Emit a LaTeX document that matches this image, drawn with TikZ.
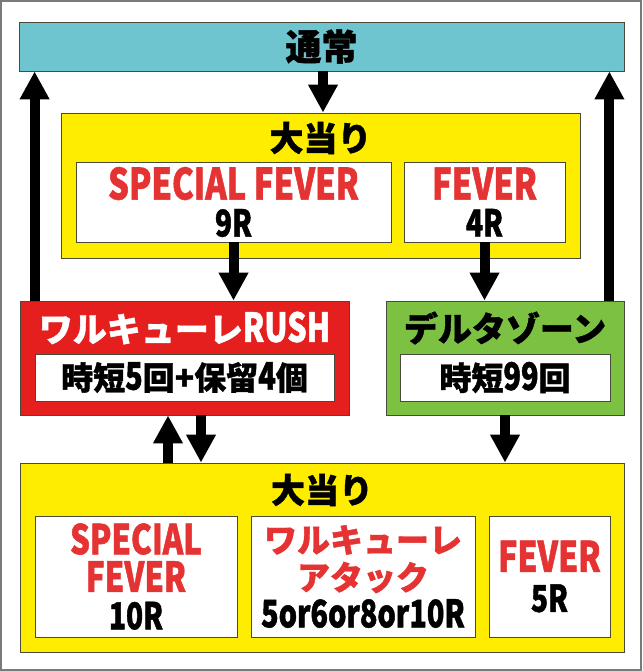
\documentclass[tikz,border=0pt]{standalone}
\usepackage{fontspec}
\setmainfont{Noto Sans CJK JP}[BoldFeatures={FakeBold=1.2}]
\newfontfamily\latin{Noto Sans CJK JP}[FakeStretch=0.76,BoldFeatures={FakeBold=1.2}]
\usetikzlibrary{arrows.meta}
\definecolor{cyanbar}{HTML}{6EC4CF}
\definecolor{hityellow}{HTML}{FFED00}
\definecolor{rushred}{HTML}{E41F1E}
\definecolor{deltagreen}{HTML}{7CC142}
\definecolor{textred}{HTML}{E53232}
\definecolor{edgegray}{HTML}{4A4A3A}
\definecolor{framegray}{HTML}{7A7A7A}

\begin{document}
\begin{tikzpicture}[x=1pt,y=-1pt]
        \tikzset{panel/.style={draw=edgegray,line width=0.8pt,inner sep=0pt},
            whitebox/.style={panel,fill=white,align=center},
            big/.style={font=\bfseries\fontsize{34}{37}\selectfont},
            arr/.style={line width=10pt,-{Triangle[length=28pt,width=28pt]}}}
        \useasboundingbox (0,0) rectangle (642,671);
        \draw[framegray,line width=2pt] (1,1) rectangle (641,670);
        \node[panel,fill=cyanbar,minimum width=605pt,minimum height=49pt,font=\bfseries\fontsize{36}{37}\selectfont] (tsujo) at (321.5,46.5) {通常};
        \node[panel,fill=hityellow,minimum width=519pt,minimum height=145pt] (hit1) at (320.5,185.5) {};
        \node[big] (hit1title) at (320.5,138) {大当り};
        \node[whitebox,minimum width=315pt,minimum height=80pt,big] (sf1) at (233.5,202)
            {\latin\color{textred}\fontsize{43}{37}\selectfont SPECIAL FEVER\\\latin\fontsize{37}{37}\selectfont 9R};
        \node[whitebox,minimum width=161pt,minimum height=80pt,big] (fv1) at (484.5,202)
            {\latin\color{textred}\fontsize{43}{37}\selectfont FEVER\\\latin\fontsize{37}{37}\selectfont 4R};
        \node[panel,fill=rushred,minimum width=329pt,minimum height=114pt] (rush) at (184.5,358) {};
        \node[big,white] (rushtitle) at (184.5,328) {ワルキューレ{\latin\fontsize{40}{37}\selectfont RUSH}};
        \node[whitebox,minimum width=299pt,minimum height=47pt,font=\bfseries\fontsize{32}{37}\selectfont] (rushin) at (184.5,377.5) {時短{\latin\fontsize{38}{37}\selectfont 5}回+保留{\latin\fontsize{38}{37}\selectfont 4}個};
        \node[panel,fill=deltagreen,minimum width=238pt,minimum height=114pt] (delta) at (505,358) {};
        \node[big] (deltatitle) at (505,328) {デルタゾーン};
        \node[whitebox,minimum width=210pt,minimum height=47pt,font=\bfseries\fontsize{32}{37}\selectfont] (deltain) at (505,377.5) {時短{\latin\fontsize{38}{37}\selectfont 99}回};
        \node[panel,fill=hityellow,minimum width=604pt,minimum height=189pt] (hit2) at (322,557.5) {};
        \node[big] (hit2title) at (322,490) {大当り};
        \node[whitebox,minimum width=202pt,minimum height=121pt,font=\bfseries\latin\fontsize{41}{37.5}\selectfont] (sf2) at (136,576.5)
            {\color{textred}SPECIAL\\\color{textred}FEVER\\\fontsize{37}{37.5}\selectfont 10R};
        \node[whitebox,minimum width=224pt,minimum height=121pt,font=\bfseries\fontsize{33}{37.5}\selectfont] (wa) at (363,576.5)
            {\color{textred}ワルキューレ\\\color{textred}アタック\\\latin\fontsize{38}{37.5}\selectfont 5or6or8or10R};
        \node[whitebox,minimum width=121pt,minimum height=121pt,font=\bfseries\latin\fontsize{42}{40}\selectfont] (fv2) at (549.5,576.5)
            {\color{textred}FEVER\\\fontsize{37}{40}\selectfont 5R};
        \draw[arr] ([xshift=1.5pt]tsujo.south) -- ([xshift=1.5pt]tsujo.south |- hit1.north);
        \draw[arr] (sf1.south) -- (sf1.south |- rush.north);
        \draw[arr] (fv1.south) -- (fv1.south |- delta.north);
        \draw[arr] ([xshift=15pt]rush.north west) -- ([xshift=15pt]rush.north west |- tsujo.south);
        \draw[arr] ([xshift=-15pt]delta.north east) -- ([xshift=-15pt]delta.north east |- tsujo.south);
        \draw[arr] ([xshift=-16.5pt]rush.south |- hit2.north) -- ([xshift=-16.5pt]rush.south);
        \draw[arr] ([xshift=16.5pt]rush.south) -- ([xshift=16.5pt]rush.south |- hit2.north);
        \draw[arr] (delta.south) -- (delta.south |- hit2.north);
\end{tikzpicture}
\end{document}
